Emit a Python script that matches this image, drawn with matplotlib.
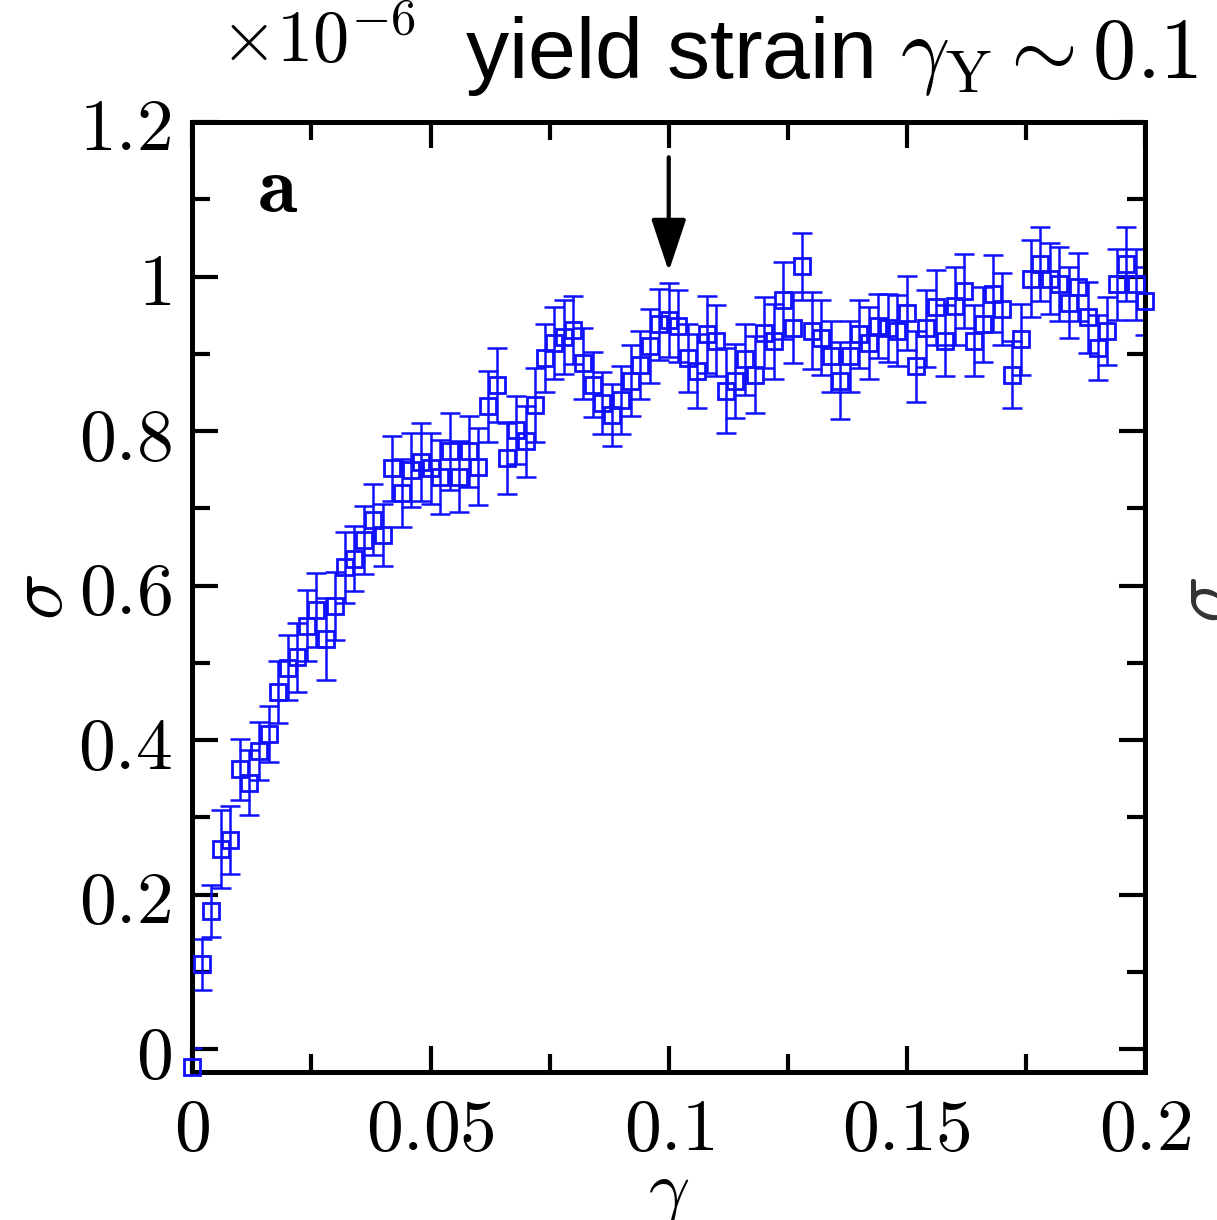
import numpy as np
import matplotlib

matplotlib.use('Agg')
import matplotlib.pyplot as plt
from matplotlib.ticker import MultipleLocator, FuncFormatter

plt.rcParams['mathtext.fontset'] = 'cm'
plt.rcParams['font.family'] = 'DejaVu Serif'
plt.rcParams['xtick.direction'] = 'in'
plt.rcParams['ytick.direction'] = 'in'
plt.rcParams['xtick.top'] = True
plt.rcParams['ytick.right'] = True

# strain (x) and stress sigma (x 1e-6) with error bars
strain = [0.000, 0.002, 0.004, 0.006, 0.008, 0.010, 0.012, 0.014, 0.016, 0.018,
          0.020, 0.022, 0.024, 0.026, 0.028, 0.030, 0.032, 0.034, 0.036, 0.038,
          0.040, 0.042, 0.044, 0.046, 0.048, 0.050, 0.052, 0.054, 0.056, 0.058,
          0.060, 0.062, 0.064, 0.066, 0.068, 0.070, 0.072, 0.074, 0.076, 0.078,
          0.080, 0.082, 0.084, 0.086, 0.088, 0.090, 0.092, 0.094, 0.096, 0.098,
          0.100, 0.102, 0.104, 0.106, 0.108, 0.110, 0.112, 0.114, 0.116, 0.118,
          0.120, 0.122, 0.124, 0.126, 0.128, 0.130, 0.132, 0.134, 0.136, 0.138,
          0.140, 0.142, 0.144, 0.146, 0.148, 0.150, 0.152, 0.154, 0.156, 0.158,
          0.160, 0.162, 0.164, 0.166, 0.168, 0.170, 0.172, 0.174, 0.176, 0.178,
          0.180, 0.182, 0.184, 0.186, 0.188, 0.190, 0.192, 0.194, 0.196, 0.198,
          0.200]
stress = [-0.023, 0.110, 0.179, 0.259, 0.271, 0.362, 0.345, 0.386, 0.408, 0.462,
          0.494, 0.507, 0.548, 0.568, 0.531, 0.574, 0.624, 0.635, 0.659, 0.685,
          0.665, 0.752, 0.720, 0.750, 0.760, 0.752, 0.741, 0.774, 0.741, 0.774,
          0.754, 0.832, 0.860, 0.765, 0.802, 0.787, 0.834, 0.895, 0.914, 0.922,
          0.931, 0.888, 0.860, 0.836, 0.821, 0.840, 0.865, 0.886, 0.910, 0.938,
          0.944, 0.936, 0.895, 0.878, 0.925, 0.917, 0.852, 0.865, 0.893, 0.873,
          0.927, 0.916, 0.969, 0.934, 1.013, 0.930, 0.921, 0.897, 0.865, 0.897,
          0.925, 0.914, 0.936, 0.934, 0.930, 0.953, 0.884, 0.933, 0.960, 0.917,
          0.962, 0.981, 0.917, 0.938, 0.978, 0.958, 0.873, 0.919, 0.997, 1.016,
          0.997, 0.990, 0.966, 0.986, 0.947, 0.908, 0.929, 0.990, 1.016, 0.990,
          0.968]
stress_err = [0.024, 0.033, 0.034, 0.050, 0.044, 0.040, 0.042, 0.038, 0.036, 0.040,
              0.042, 0.045, 0.046, 0.048, 0.053, 0.044, 0.046, 0.042, 0.044, 0.046,
              0.040, 0.042, 0.044, 0.048, 0.050, 0.046, 0.048, 0.050, 0.046, 0.046,
              0.050, 0.046, 0.048, 0.046, 0.044, 0.046, 0.048, 0.044, 0.046, 0.048,
              0.044, 0.046, 0.042, 0.040, 0.040, 0.044, 0.046, 0.044, 0.048, 0.046,
              0.048, 0.046, 0.044, 0.048, 0.050, 0.046, 0.055, 0.048, 0.046, 0.050,
              0.046, 0.048, 0.050, 0.046, 0.043, 0.050, 0.048, 0.046, 0.050, 0.046,
              0.044, 0.046, 0.042, 0.044, 0.046, 0.048, 0.046, 0.050, 0.048, 0.046,
              0.050, 0.048, 0.046, 0.048, 0.050, 0.046, 0.043, 0.046, 0.050, 0.048,
              0.046, 0.048, 0.046, 0.044, 0.046, 0.042, 0.044, 0.046, 0.048, 0.046,
              0.044]

x_ticks = [0, 0.05, 0.1, 0.15, 0.2]
y_ticks = [0, 0.2, 0.4, 0.6, 0.8, 1, 1.2]


def main():
    fig = plt.figure(figsize=(12.17, 12.2), dpi=100)
    ax = fig.add_axes([0.158, 0.121, 0.783, 0.779])

    ax.errorbar(strain, stress, yerr=stress_err, fmt='none', ecolor='#1010ff',
                elinewidth=1.8, capsize=7, capthick=1.8)
    ax.plot(strain, stress, 's', mfc='none', mec='#1010ff', ms=11, mew=2.0,
            clip_on=False, zorder=3)

    ax.set_xlim(0, 0.2)
    ax.set_ylim(-0.03, 1.2)
    ax.set_xticks(x_ticks)
    ax.set_yticks(y_ticks)
    ax.xaxis.set_minor_locator(MultipleLocator(0.025))
    ax.yaxis.set_minor_locator(MultipleLocator(0.1))
    ax.xaxis.set_major_formatter(FuncFormatter(lambda v, p: r'$%g$' % v))
    ax.yaxis.set_major_formatter(FuncFormatter(lambda v, p: r'$%g$' % v))
    ax.tick_params(which='major', length=19, width=3, labelsize=53, pad=15)
    ax.tick_params(which='minor', length=13, width=3)
    for s in ax.spines.values():
        s.set_linewidth(3.6)

    ax.set_xlabel(r'$\gamma$', fontsize=52, labelpad=-6)
    ax.set_ylabel(r'$\sigma$', fontsize=56, labelpad=0)

    ax.text(0.0135, 1.083, r'$\mathbf{a}$', fontsize=58)
    ax.annotate('', xy=(0.1, 1.003), xytext=(0.1, 1.158),
                arrowprops=dict(arrowstyle='-|>,head_length=0.9,head_width=0.3',
                                lw=3, color='k', mutation_scale=36))

    fig.text(0.181, 0.949, r'$\times 10^{-6}$', fontsize=52, va='baseline')
    fig.text(0.382, 0.936, r'yield strain $\gamma_\mathrm{Y} \sim 0.1$',
             fontsize=62, va='baseline', family='Liberation Sans')
    # edge of the neighbouring panel's label
    fig.text(0.958, 0.508, r'$\sigma$', fontsize=56, rotation=90,
             ha='left', va='center', color='#333333')

    fig.savefig('out.png', dpi=100)


if __name__ == '__main__':
    main()
